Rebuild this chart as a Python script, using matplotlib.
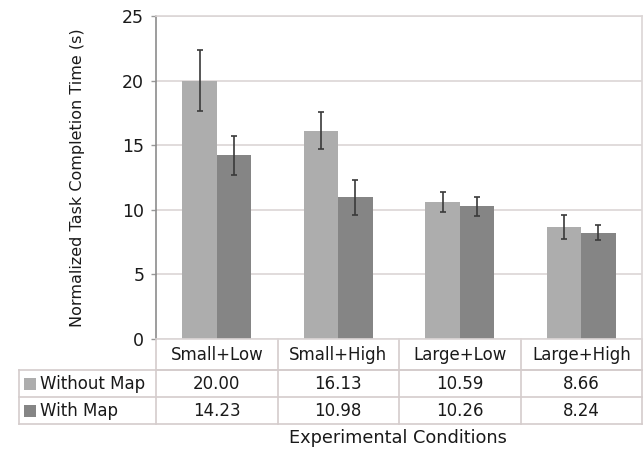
import matplotlib.pyplot as plt
import matplotlib.patches as mpatches
import numpy as np

conditions = ['Small+Low', 'Small+High', 'Large+Low', 'Large+High']
series = ['Without Map', 'With Map']
without_map = [20.00, 16.13, 10.59, 8.66]
with_map = [14.23, 10.98, 10.26, 8.24]
without_err = [2.33, 1.43, 0.78, 0.93]
with_err = [1.50, 1.35, 0.72, 0.60]

light = '#adadad'
dark = '#858585'
grid_c = '#dcd6d6'
line_c = '#d4cccc'
txt_c = '#1a1a1a'

fig = plt.figure(figsize=(6.43, 4.53), dpi=100)
ax = fig.add_axes([156 / 643, 114 / 453, 486 / 643, 323 / 453])

x = np.arange(len(conditions)) + 0.5
w = 0.282
ax.bar(x - w / 2, without_map, w, color=light, zorder=2)
ax.bar(x + w / 2, with_map, w, color=dark, zorder=2)
ax.errorbar(x - w / 2, without_map, yerr=without_err, fmt='none',
            ecolor='#3a3a3a', elinewidth=1.2, capsize=2.5, capthick=1.2, zorder=3)
ax.errorbar(x + w / 2, with_map, yerr=with_err, fmt='none',
            ecolor='#3a3a3a', elinewidth=1.2, capsize=2.5, capthick=1.2, zorder=3)

ax.set_xlim(0, 4)
ax.set_ylim(0, 25)
ax.set_yticks(range(0, 26, 5))
ax.set_xticks([])
ax.yaxis.grid(True, color=grid_c, linewidth=1.2, zorder=0)
ax.tick_params(axis='y', length=3.5, width=1, color='#999999',
               labelsize=12.5, labelcolor=txt_c, pad=5)
ax.spines['left'].set_color('#8c8c8c')
ax.spines['left'].set_linewidth(1.2)
for s in ['top', 'right', 'bottom']:
    ax.spines[s].set_color(grid_c)
    ax.spines[s].set_linewidth(1.2)
ax.set_ylabel('Normalized Task Completion Time (s)', fontsize=11.5,
              color=txt_c, labelpad=27)

# data table under the plot, in axes coordinates
y_head = -31 / 323
y_row1 = -58.3 / 323
y_row2 = -85 / 323
x_lab = -137 / 486
lk = dict(transform=ax.transAxes, clip_on=False, color=line_c, lw=1.2)

ax.plot([0, 1], [y_head, y_head], **lk)
ax.plot([x_lab, 1], [y_head, y_head], **lk)
ax.plot([x_lab, 1], [y_row1, y_row1], **lk)
ax.plot([x_lab, 1], [y_row2, y_row2], **lk)
ax.plot([x_lab, x_lab], [y_head, y_row2], **lk)
for i in range(len(conditions) + 1):
    ax.plot([i / 4, i / 4], [0, y_row2], **lk)

for i, c in enumerate(conditions):
    ax.text((i + 0.5) / 4, y_head / 2, c, transform=ax.transAxes,
            ha='center', va='center', fontsize=12, color=txt_c)

rows = [without_map, with_map]
colors = [light, dark]
ys = [(y_head + y_row1) / 2, (y_row1 + y_row2) / 2]
for name, vals, col, yc in zip(series, rows, colors, ys):
    sq = mpatches.Rectangle((x_lab + 5 / 486, yc - 6 / 323), 12 / 486, 12 / 323,
                            transform=ax.transAxes, clip_on=False,
                            facecolor=col, edgecolor='none')
    ax.add_patch(sq)
    ax.text(x_lab + 21 / 486, yc, name, transform=ax.transAxes,
            ha='left', va='center', fontsize=12, color=txt_c)
    for i, v in enumerate(vals):
        ax.text((i + 0.5) / 4, yc, f'{v:.2f}', transform=ax.transAxes,
                ha='center', va='center', fontsize=12, color=txt_c)

fig.text(398 / 643, 1 - 438 / 453, 'Experimental Conditions',
         ha='center', va='center', fontsize=12.8, color=txt_c)

fig.savefig('out.png', dpi=100)
